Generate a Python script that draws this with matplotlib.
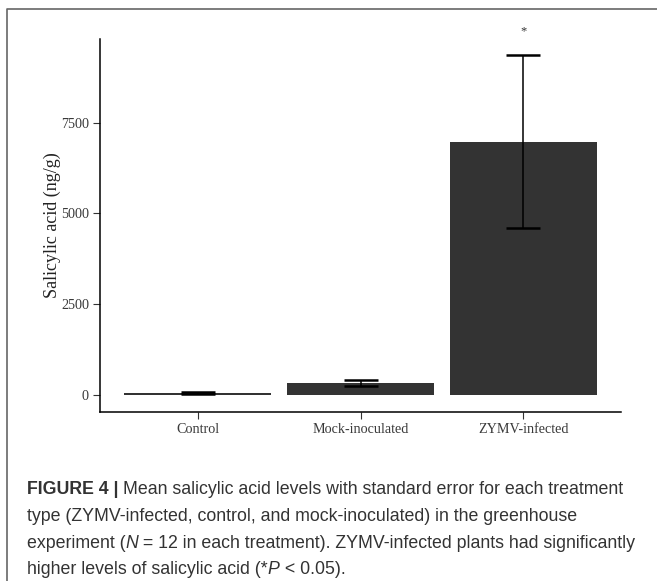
import numpy as np
import matplotlib
matplotlib.use("Agg")
import matplotlib.pyplot as plt
from matplotlib.lines import Line2D

categories = ["Control", "Mock-inoculated", "ZYMV-infected"]
means = [55, 335, 6975]
se = [25, 75, 2380]
yticks = [0, 2500, 5000, 7500]
star_label = "*"

W, H = 657, 581
fig = plt.figure(figsize=(W / 100, H / 100), dpi=100)
fig.patch.set_facecolor("white")

# plot panel
ax = fig.add_axes([100 / W, 1 - 412 / H, 521 / W, 373 / H])
x = np.arange(1, len(categories) + 1)
ax.bar(x, means, width=0.9, color="#333333", edgecolor="none", zorder=2)
ax.errorbar(x, means, yerr=se, fmt="none", ecolor="black", elinewidth=1.1,
            capsize=11.9, capthick=1.8, zorder=3)
ax.text(3, 10030, star_label, ha="center", va="center", fontsize=9,
        family="Liberation Serif", color="#333333", clip_on=False)

ax.set_xlim(0.4, 3.6)
ax.set_ylim(-468, 9805)
ax.set_xticks(x)
ax.set_xticklabels(categories)
ax.set_yticks(yticks)
ax.set_yticklabels([str(v) for v in yticks])
for lab in ax.get_xticklabels() + ax.get_yticklabels():
    lab.set_family("Liberation Serif")
    lab.set_fontsize(10.2)
    lab.set_color("#3a3a3a")
ax.tick_params(length=5, width=0.8, color="#333333", pad=3)
for s in ["top", "right"]:
    ax.spines[s].set_visible(False)
for s in ["left", "bottom"]:
    ax.spines[s].set_linewidth(1.1)
    ax.spines[s].set_color("black")
ax.set_ylabel("Salicylic acid (ng/g)", family="Liberation Serif", fontsize=13,
              color="#222222")
ax.yaxis.set_label_coords(-39 / 521, 0.5)

# outer frame (open at right and bottom)
fig.add_artist(Line2D([7 / W, 7 / W, 1.0], [0.0, 1 - 9 / H, 1 - 9 / H],
                      transform=fig.transFigure, color="#666666", lw=1.2))

# caption with mixed styles
caption = [
    [("FIGURE 4 | ", "bold", "normal"),
     ("Mean salicylic acid levels with standard error for each treatment", "normal", "normal")],
    [("type (ZYMV-infected, control, and mock-inoculated) in the greenhouse", "normal", "normal")],
    [("experiment (", "normal", "normal"), ("N", "normal", "italic"),
     (" = 12 in each treatment). ZYMV-infected plants had significantly", "normal", "normal")],
    [("higher levels of salicylic acid (*", "normal", "normal"), ("P", "normal", "italic"),
     (" < 0.05).", "normal", "normal")],
]
line_y = [490, 516.5, 543, 569.5]
renderer = fig.canvas.get_renderer()
for segs, yy in zip(caption, line_y):
    xpos = 27
    for txt, weight, style in segs:
        t = fig.text(xpos / W, 1 - yy / H, txt, ha="left", va="center",
                     family="Liberation Sans", fontsize=12.8, weight=weight,
                     style=style, color="#333333")
        bb = t.get_window_extent(renderer=renderer)
        xpos += bb.width

fig.savefig("out.png", dpi=100)
